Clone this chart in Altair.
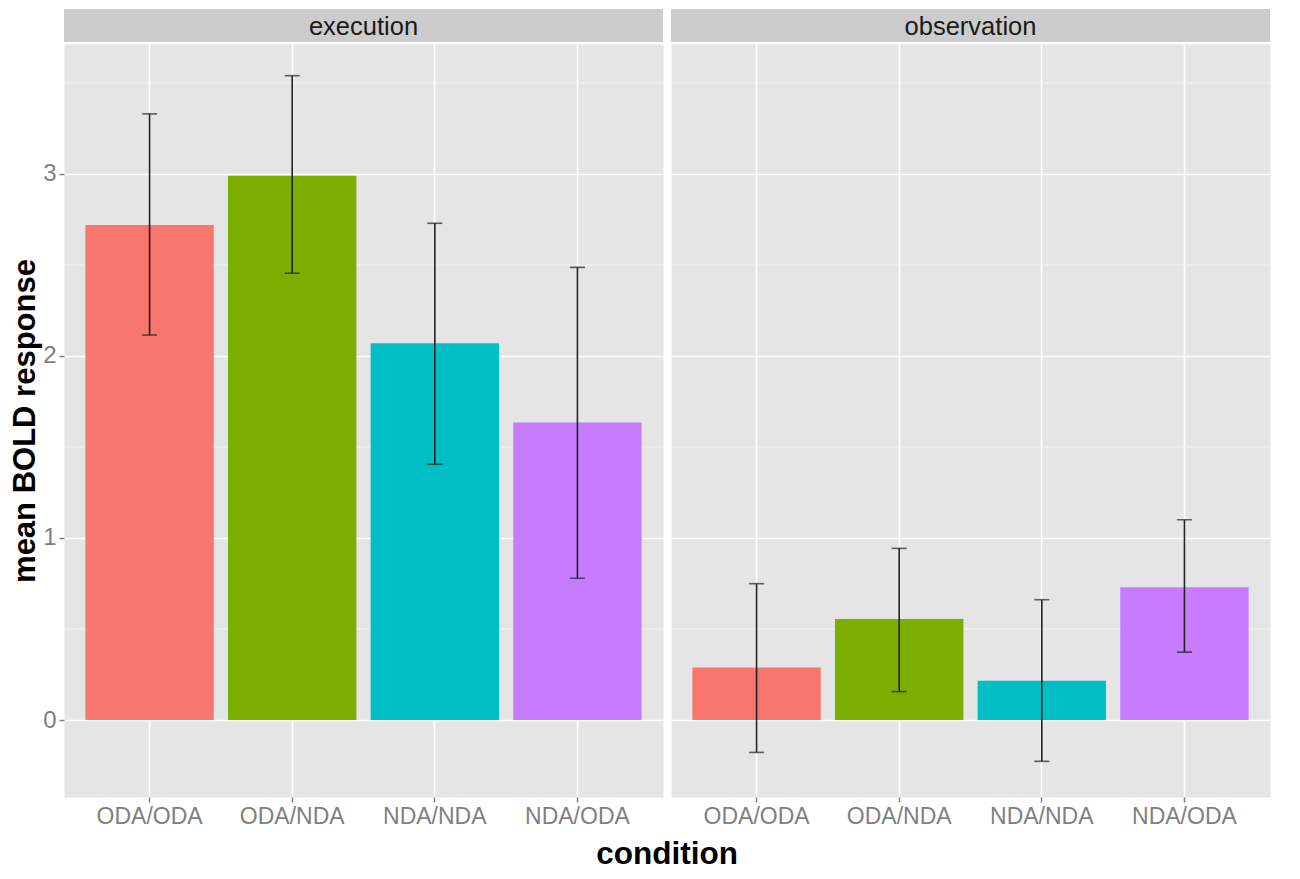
import altair as alt
import pandas as pd

conditions = ["ODA/ODA", "ODA/NDA", "NDA/NDA", "NDA/ODA"]
colors = ["#F8766D", "#7CAE00", "#00BFC4", "#C77CFF"]

exec_mean = [2.72, 2.99, 2.07, 1.634]
exec_lo = [2.115, 2.455, 1.405, 0.779]
exec_hi = [3.33, 3.54, 2.729, 2.487]

obs_mean = [0.288, 0.555, 0.216, 0.729]
obs_lo = [-0.178, 0.156, -0.227, 0.373]
obs_hi = [0.749, 0.943, 0.661, 1.10]

minor_breaks = [0.5, 1.5, 2.5, 3.5]
y_domain = [-0.423, 3.714]

PW, PH, SH = 599, 753, 33
FONT = "Liberation Sans"


def panel(name, mean, lo, hi, show_y):
    df = pd.DataFrame({"condition": conditions, "mean": mean, "lo": lo, "hi": hi})
    x = alt.X(
        "condition:N",
        sort=conditions,
        scale=alt.Scale(paddingInner=0.1, paddingOuter=0.15),
        axis=alt.Axis(
            title=None, labelAngle=0, labelFontSize=23, labelColor="#7F7F7F",
            labelFont=FONT, tickColor="#7F7F7F", tickSize=5, tickWidth=1.5,
            labelPadding=3, domain=False, grid=True, gridColor="white",
            gridWidth=1.6,
        ),
    )
    yscale = alt.Scale(domain=y_domain, nice=False, zero=False)
    if show_y:
        yaxis = alt.Axis(
            title="mean BOLD response", values=[0, 1, 2, 3], format="d",
            labelFontSize=24, labelColor="#7F7F7F", labelFont=FONT,
            tickColor="#7F7F7F", tickSize=5, tickWidth=1.5, labelPadding=3,
            domain=False, grid=True, gridColor="white", gridWidth=1.6,
            titleFontSize=31, titleFont=FONT, titleFontWeight="bold",
            titleColor="black", titlePadding=1,
        )
    else:
        yaxis = alt.Axis(
            title=None, values=[0, 1, 2, 3], labels=False, ticks=False,
            domain=False, grid=True, gridColor="white", gridWidth=1.6,
        )
    base = alt.Chart(df)
    minor = alt.Chart(pd.DataFrame({"v": minor_breaks})).mark_rule(
        color="#F2F2F2", strokeWidth=1
    ).encode(y=alt.Y("v:Q", scale=yscale, axis=yaxis))
    bars = base.mark_bar().encode(
        x=x,
        y=alt.Y("mean:Q", scale=yscale, axis=yaxis),
        y2=alt.Y2(datum=0),
        color=alt.Color("condition:N", scale=alt.Scale(domain=conditions, range=colors), legend=None),
    )
    rule = base.mark_rule(color="#222222", strokeWidth=1.6).encode(
        x=x, y=alt.Y("lo:Q", scale=yscale), y2="hi:Q"
    )
    cap_lo = base.mark_tick(color="#222222", thickness=1.6, size=15).encode(
        x=x, y=alt.Y("lo:Q", scale=yscale)
    )
    cap_hi = base.mark_tick(color="#222222", thickness=1.6, size=15).encode(
        x=x, y=alt.Y("hi:Q", scale=yscale)
    )
    plot = alt.layer(minor, bars, rule, cap_lo, cap_hi).properties(
        width=PW, height=PH, view=alt.ViewConfig(fill="#E5E5E5", stroke="transparent")
    )

    sdf = pd.DataFrame({"label": [name]})
    strip_bg = alt.Chart(sdf).mark_rect(color="#CCCCCC").encode(
        x=alt.value(0), x2=alt.value(PW), y=alt.value(0), y2=alt.value(SH)
    )
    strip_txt = alt.Chart(sdf).mark_text(
        fontSize=25.5, font=FONT, color="#1A1A1A", baseline="middle", align="center"
    ).encode(x=alt.value(PW / 2), y=alt.value(SH / 2 + 1), text="label:N")
    strip = alt.layer(strip_bg, strip_txt).properties(
        width=PW, height=SH, view=alt.ViewConfig(fill="transparent", stroke="transparent")
    )
    return alt.vconcat(strip, plot, spacing=0)


left = panel("execution", exec_mean, exec_lo, exec_hi, True)
right = panel("observation", obs_mean, obs_lo, obs_hi, False)

chart = alt.hconcat(left, right, spacing=6).properties(
    title=alt.TitleParams(
        "condition", orient="bottom", anchor="middle", fontSize=31.5,
        font=FONT, fontWeight="bold", color="black", dx=27, offset=10,
    ),
    padding={"left": 1, "top": 0, "right": 0, "bottom": 0},
).configure(background="white").configure_view(fill="#E5E5E5", stroke="transparent")

chart.save("out.html", embed_options={"renderer": "svg", "actions": False})
